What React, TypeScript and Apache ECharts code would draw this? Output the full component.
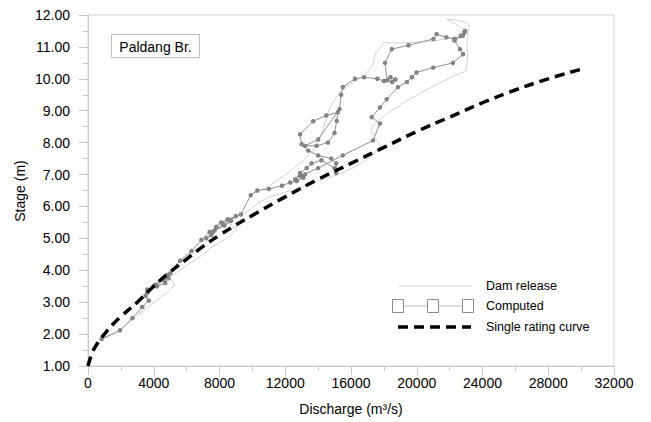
import React, { useEffect, useRef } from "react";
import * as echarts from "echarts";

// Single rating curve: [discharge (m3/s), stage (m)]
const ratingCurve: number[][] = [
  [0, 1.0], [250, 1.4], [500, 1.65], [1000, 2.0], [1500, 2.3], [2000, 2.55],
  [3000, 3.0], [4000, 3.5], [5000, 3.95], [6000, 4.35], [7000, 4.75],
  [8000, 5.1], [9000, 5.42], [10000, 5.72], [12000, 6.3], [14000, 6.85],
  [16000, 7.35], [18000, 7.85], [20000, 8.35], [22000, 8.8], [24000, 9.25],
  [26000, 9.65], [28000, 10.0], [30000, 10.3],
];

// Dam release: [discharge, stage]
const damRelease: number[][] = [
  [650, 1.8], [1800, 2.05], [2900, 2.55], [3900, 2.95], [4800, 3.3], [5300, 3.55],
  [5000, 3.75], [4400, 3.65], [4300, 3.5], [5000, 3.8], [6000, 4.15], [7000, 4.5],
  [7600, 4.75], [8300, 4.95], [9050, 5.27], [8700, 5.45], [8100, 5.5], [7700, 5.4],
  [8600, 5.6], [9550, 5.8], [10200, 6.05], [11000, 6.3], [12000, 6.45], [13000, 6.6],
  [14000, 6.8], [15200, 7.0], [16300, 7.25], [17300, 7.6], [17800, 7.9], [17400, 8.2],
  [17200, 8.45], [17700, 8.7], [18300, 8.95], [19200, 9.25], [20200, 9.55],
  [21300, 9.85], [22300, 10.1], [23000, 10.25], [23100, 10.7], [23050, 11.2],
  [23200, 11.65], [23000, 11.77], [22200, 11.85], [21800, 11.87], [22400, 11.7],
  [22900, 11.55], [22300, 11.3], [21200, 11.2], [20000, 11.15], [18900, 11.12],
  [18000, 11.14], [17500, 10.8], [17300, 10.4], [16800, 10.1], [16000, 9.85],
  [15300, 9.55], [14800, 9.2], [14500, 8.8], [14300, 8.4], [14000, 8.0],
  [13600, 7.7], [13000, 7.4], [12300, 7.1], [11600, 6.85], [10900, 6.6],
  [10200, 6.45], [9800, 6.35],
];

// Computed: [discharge, stage]
const computed: number[][] = [
  [830, 1.85], [1950, 2.12], [2700, 2.5], [3300, 2.85], [3700, 3.05], [3500, 3.2],
  [3600, 3.4], [4200, 3.5], [4700, 3.6], [4900, 3.75], [5000, 3.9], [4850, 3.8],
  [4600, 3.7], [4100, 3.55], [3600, 3.3], [4000, 3.5], [4800, 3.85], [5600, 4.3],
  [6300, 4.6], [6900, 4.95], [7400, 5.2], [7800, 5.35], [8100, 5.5], [8500, 5.6],
  [9000, 5.7], [8700, 5.55], [8300, 5.4], [7700, 5.25], [7500, 5.1], [7200, 5.0],
  [7600, 5.2], [8200, 5.45], [9300, 5.75], [9900, 6.35], [10300, 6.5], [11000, 6.55],
  [11800, 6.65], [12300, 6.75], [12700, 6.8], [13100, 6.9], [13200, 7.0],
  [13000, 6.95], [12600, 6.85], [12900, 7.05], [13300, 7.2], [13600, 7.35],
  [14200, 7.45], [15000, 7.2], [15100, 7.05], [15100, 7.35], [14800, 7.5],
  [14000, 7.6], [13400, 7.75], [13000, 7.95], [12900, 8.26], [13700, 8.67],
  [14500, 8.85], [15200, 8.95], [15130, 8.68], [15000, 8.3], [14600, 8.0],
  [13900, 7.9], [13200, 7.9], [14000, 8.1], [15300, 9.05], [15400, 9.5],
  [15500, 9.74], [16240, 10.0], [16800, 10.05], [17600, 10.0], [18000, 9.93],
  [18400, 10.05], [18700, 9.98], [18500, 9.9], [18200, 9.95], [18070, 10.5],
  [18480, 10.93], [19500, 11.05], [21010, 11.25], [21210, 11.4], [21800, 11.3],
  [22300, 11.25], [22700, 11.35], [22900, 11.45], [22940, 11.5], [22800, 11.35],
  [22300, 11.2], [22630, 10.93], [22820, 10.77], [22200, 10.5], [21000, 10.35],
  [19990, 10.2], [19700, 10.05], [19400, 9.9], [18860, 9.74], [18170, 9.36],
  [17760, 9.1], [17260, 8.8], [17760, 8.6], [17340, 8.07], [15500, 7.6],
  [14000, 7.2], [12900, 6.95],
];

const xTicks = { min: 0, max: 32000, interval: 4000 };
const yTicks = { min: 1, max: 12, interval: 1 };

const FONT = "'Liberation Sans', Arial, sans-serif";
const AXIS_GRAY = "#c8c8c8";

export default function App() {
  const ref = useRef<HTMLDivElement>(null);
  useEffect(() => {
    if (!ref.current) return;
    const chart = echarts.init(ref.current, undefined, { renderer: "svg" });
    const axisCommon = {
      type: "value" as const,
      axisLine: { show: true, lineStyle: { color: AXIS_GRAY, width: 1 } },
      axisTick: { show: true, inside: false, length: 9, lineStyle: { color: AXIS_GRAY } },
      minorTick: { show: true, splitNumber: 2, length: 5, lineStyle: { color: AXIS_GRAY } },
      splitLine: { show: false },
    };
    chart.setOption({
      animation: false,
      backgroundColor: "#ffffff",
      grid: {
        left: 88, right: 37, top: 15, bottom: 56,
        show: true, borderColor: "#d4d4d4", borderWidth: 1, backgroundColor: "transparent",
      },
      xAxis: {
        ...axisCommon,
        min: xTicks.min, max: xTicks.max, interval: xTicks.interval,
        axisLabel: {
          color: "#000", fontFamily: FONT, fontSize: 14, margin: 10,
          formatter: (v: number) => String(v),
        },
        name: "Discharge (m³/s)",
        nameLocation: "middle",
        nameGap: 36,
        nameTextStyle: { color: "#000", fontFamily: FONT, fontSize: 14 },
      },
      yAxis: {
        ...axisCommon,
        min: yTicks.min, max: yTicks.max, interval: yTicks.interval,
        axisLabel: {
          color: "#000", fontFamily: FONT, fontSize: 14, margin: 18,
          formatter: (v: number) => v.toFixed(2),
        },
      },
      series: [
        {
          type: "line", name: "Dam release", data: damRelease, showSymbol: false,
          symbol: "none", lineStyle: { color: "#d2d2d2", width: 1 }, z: 1,
        },
        {
          type: "line", name: "Computed", data: computed, symbol: "emptyCircle",
          symbolSize: 2.5, showSymbol: true,
          lineStyle: { color: "#8f8f8f", width: 1 },
          itemStyle: { color: "#808080", borderColor: "#808080", borderWidth: 1 }, z: 2,
        },
        {
          type: "line", name: "Single rating curve", data: ratingCurve, symbol: "none",
          smooth: true,
          lineStyle: { color: "#000", width: 3.5, type: [10, 6] }, z: 3,
        },
      ],
      graphic: [
        {
          type: "text", x: 20, y: 191, rotation: Math.PI / 2,
          style: { text: "Stage (m)", fontFamily: FONT, fontSize: 14, fill: "#000", align: "center", verticalAlign: "middle" },
        },
        {
          type: "rect", shape: { x: 111.5, y: 34.5, width: 88, height: 23 },
          style: { fill: "#fff", stroke: "#bdbdbd", lineWidth: 1 },
        },
        {
          type: "text", x: 155.5, y: 46.5,
          style: { text: "Paldang Br.", fontFamily: FONT, fontSize: 14, fill: "#000", align: "center", verticalAlign: "middle" },
        },
        { type: "line", shape: { x1: 398, y1: 286, x2: 471, y2: 286 }, style: { stroke: "#d6d6d6", lineWidth: 1 } },
        {
          type: "text", x: 486, y: 286,
          style: { text: "Dam release", fontFamily: FONT, fontSize: 12.5, fill: "#000", align: "left", verticalAlign: "middle" },
        },
        { type: "line", shape: { x1: 398, y1: 306, x2: 468, y2: 306 }, style: { stroke: "#bcbcbc", lineWidth: 1 } },
        { type: "rect", shape: { x: 392.5, y: 299.5, width: 11, height: 13 }, style: { fill: "#fff", stroke: "#8a8a8a", lineWidth: 1 } },
        { type: "rect", shape: { x: 427.5, y: 299.5, width: 11, height: 13 }, style: { fill: "#fff", stroke: "#8a8a8a", lineWidth: 1 } },
        { type: "rect", shape: { x: 462.5, y: 299.5, width: 11, height: 13 }, style: { fill: "#fff", stroke: "#8a8a8a", lineWidth: 1 } },
        {
          type: "text", x: 486, y: 306,
          style: { text: "Computed", fontFamily: FONT, fontSize: 12.5, fill: "#000", align: "left", verticalAlign: "middle" },
        },
        { type: "line", shape: { x1: 398, y1: 327, x2: 471, y2: 327 }, style: { stroke: "#000", lineWidth: 3.5, lineDash: [10, 6] } },
        {
          type: "text", x: 486, y: 327,
          style: { text: "Single rating curve", fontFamily: FONT, fontSize: 12.5, fill: "#000", align: "left", verticalAlign: "middle" },
        },
      ],
    });
    return () => chart.dispose();
  }, []);
  return <div ref={ref} style={{ width: 651, height: 422, position: "absolute", left: 0, top: 0 }} />;
}
